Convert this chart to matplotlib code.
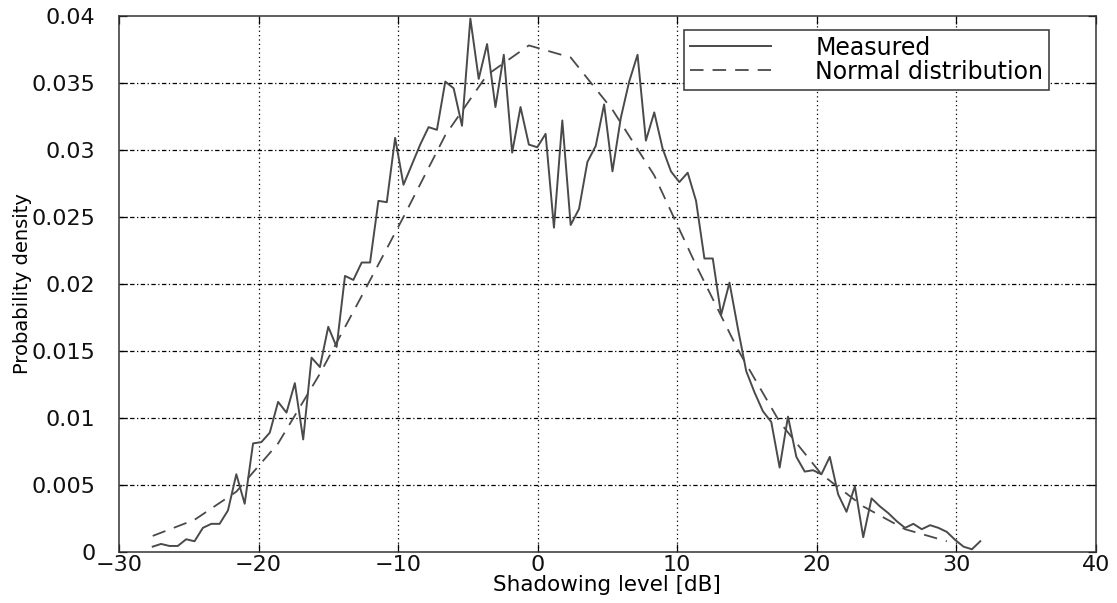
import numpy as np
import matplotlib
matplotlib.use("Agg")
import matplotlib.pyplot as plt

# ---- data ----
bin_start = -27.58      # dB, first histogram bin centre
bin_width = 0.599       # dB
measured = [0.0004, 0.0006, 0.00045, 0.00045, 0.00095, 0.0008, 0.0018, 0.0021, 0.0021, 0.0031,
            0.0058, 0.0036, 0.0081, 0.0082, 0.0089, 0.0112, 0.0104, 0.0126, 0.0084, 0.0145,
            0.0138, 0.0168, 0.0153, 0.0206, 0.0203, 0.0216, 0.0216, 0.0262, 0.0261, 0.0309,
            0.0274, 0.0289, 0.0304, 0.0317, 0.0315, 0.0351, 0.0346, 0.0318, 0.0398, 0.0353,
            0.0379, 0.0332, 0.0371, 0.0298, 0.0332, 0.0304, 0.0302, 0.0312, 0.0242, 0.0322,
            0.0244, 0.0256, 0.0291, 0.0303, 0.0334, 0.0284, 0.0324, 0.0351, 0.0371, 0.0307,
            0.0328, 0.0301, 0.0284, 0.0276, 0.0283, 0.0262, 0.0219, 0.0219, 0.0177, 0.0201,
            0.0167, 0.0135, 0.0119, 0.0105, 0.0097, 0.0063, 0.0101, 0.0071, 0.0060, 0.0061,
            0.0058, 0.0071, 0.0043, 0.0030, 0.0049, 0.0011, 0.0040, 0.0034, 0.0029, 0.0023,
            0.0018, 0.0021, 0.0017, 0.0020, 0.0018, 0.0015, 0.0009, 0.0004, 0.0002, 0.0008]
normal_every = 5        # normal curve drawn at every 5th bin
normal = [0.0012, 0.0024, 0.0045, 0.0081, 0.0133, 0.0191, 0.0250, 0.0311, 0.0356, 0.0378,
          0.0369, 0.0330, 0.0281, 0.0214, 0.0151, 0.0097, 0.0058, 0.0034, 0.0017, 0.0008]

x_ticks = [-30, -20, -10, 0, 10, 20, 30, 40]
y_ticks = [0, 0.005, 0.01, 0.015, 0.02, 0.025, 0.03, 0.035, 0.04]
y_tick_labels = ["0", "0.005", "0.01", "0.015", "0.02", "0.025", "0.03", "0.035", "0.04"]
labels = ["Measured", "Normal distribution"]

x_meas = bin_start + bin_width * np.arange(len(measured))
x_norm = x_meas[::normal_every][:len(normal)]

plt.rcParams['font.family'] = ['DejaVu Sans']

fig = plt.figure(figsize=(11.17, 6.03), dpi=100)
ax = fig.add_axes([0.1065, 0.0846, 0.8745, 0.889])

ax.plot(x_meas, measured, color='#4a4a4a', lw=1.4, ls='-', label=labels[0], zorder=3)
ax.plot(x_norm, normal, color='#4a4a4a', lw=1.3, ls=(0, (7.5, 5)), label=labels[1], zorder=3)

ax.set_xlim(-30, 40)
ax.set_ylim(0, 0.04)
ax.set_xticks(x_ticks)
ax.set_xticklabels([("\u2212%d" % -t) if t < 0 else str(t) for t in x_ticks])
ax.set_yticks(y_ticks)
ax.set_yticklabels(y_tick_labels)

for t in x_ticks[1:-1]:
    ax.axvline(t, color='black', lw=0.9, ls=(0, (1, 2.5)), zorder=1)
for t in y_ticks[1:-1]:
    ax.axhline(t, color='black', lw=0.9, ls=(0, (3.5, 2, 1, 2)), zorder=1)

ax.tick_params(direction='in', length=6, width=0.9, labelsize=16, top=True, right=True,
               labelcolor='#111111')
ax.tick_params(axis='x', pad=2)
ax.tick_params(axis='y', pad=17)
for s in ax.spines.values():
    s.set_linewidth(1.1)
    s.set_color('#333333')

ax.set_xlabel("Shadowing level [dB]", fontsize=15.5, labelpad=0)
ax.set_ylabel("Probability density", fontsize=14)
ax.yaxis.set_label_coords(-0.089, 0.5)

leg = ax.legend(loc='upper center', bbox_to_anchor=(0.7656, 0.974), borderaxespad=0,
                prop={'size': 17}, handlelength=3.4, handletextpad=1.9,
                labelspacing=0.0, borderpad=0.25, fancybox=False, framealpha=1,
                edgecolor='#333333')
leg.get_frame().set_linewidth(1.1)

fig.savefig("out.png", dpi=100)
